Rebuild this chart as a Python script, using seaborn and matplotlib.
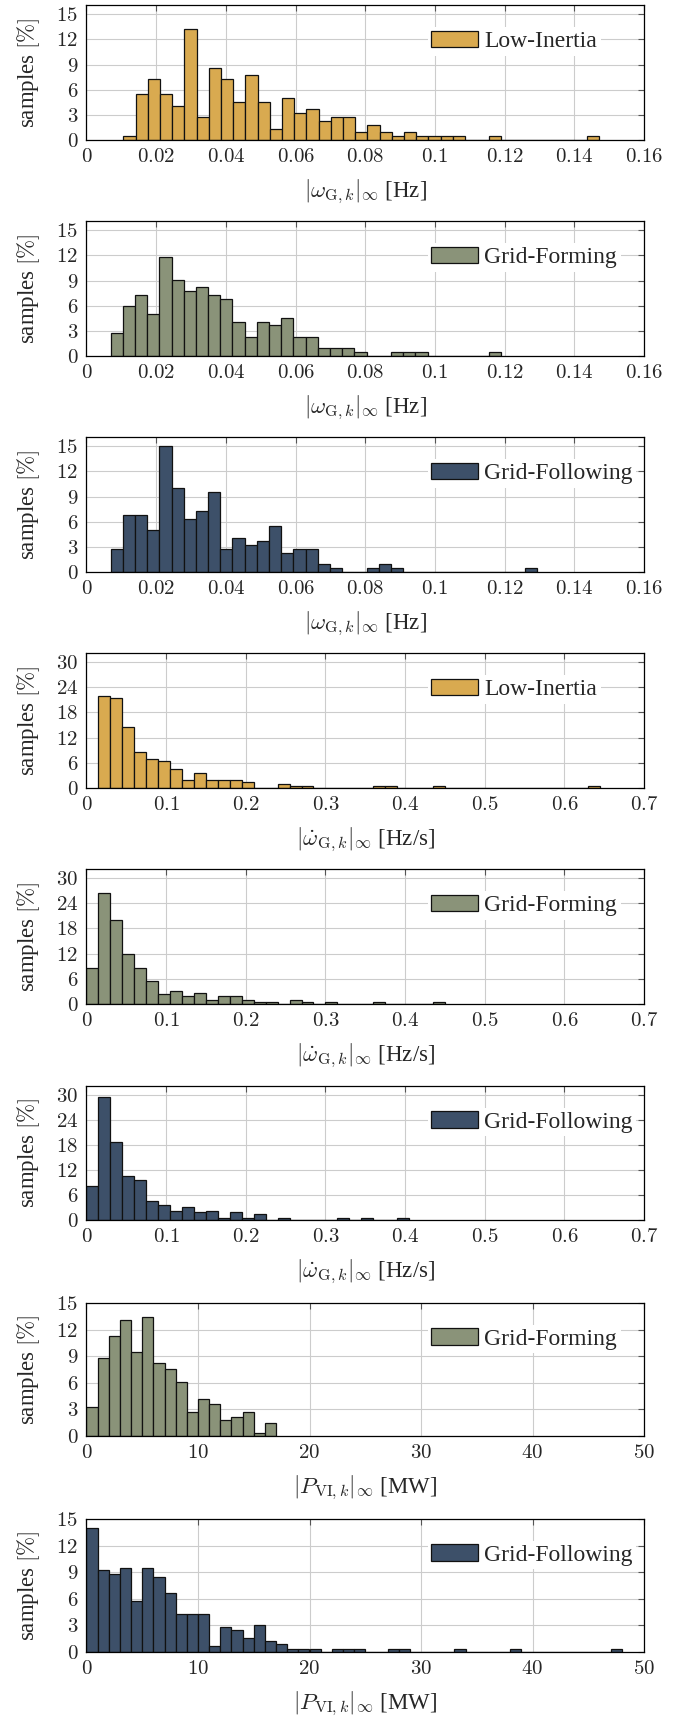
import numpy as np
import pandas as pd
import matplotlib
matplotlib.use('Agg')
import matplotlib.pyplot as plt
import seaborn as sns
from matplotlib.patches import Patch
from matplotlib.ticker import FuncFormatter, MultipleLocator

# bin heights [% of samples]
li_omega = [0.45, 5.45, 7.27, 5.45, 4.09, 13.18, 2.73, 8.64, 7.27, 4.55, 7.73, 4.55, 1.36,
            5.0, 3.18, 3.64, 2.27, 2.73, 2.73, 0.91, 1.82, 0.91, 0.45, 0.91, 0.45, 0.45,
            0.45, 0.45, 0, 0, 0.45, 0, 0, 0, 0, 0, 0, 0, 0.45]
gfm_omega = [2.73, 5.91, 7.27, 5.0, 11.82, 9.09, 7.73, 8.18, 7.27, 6.82, 4.09, 2.27, 4.09,
             3.64, 4.55, 2.27, 2.27, 0.91, 0.91, 0.91, 0.45, 0, 0, 0.45, 0.45, 0.45,
             0, 0, 0, 0, 0, 0.45]
gfl_omega = [2.73, 6.82, 6.82, 5.0, 15.0, 10.0, 6.36, 7.27, 9.55, 2.73, 4.09, 3.18, 3.64,
             5.45, 2.27, 2.73, 2.73, 0.91, 0.45, 0, 0, 0.45, 0.91, 0.45,
             0, 0, 0, 0, 0, 0, 0, 0, 0, 0, 0.45]

li_rocof = [21.82, 21.36, 14.55, 8.64, 6.82, 6.36, 4.55, 1.82, 3.64, 1.82, 1.82, 1.82, 1.36,
            0, 0, 0.91, 0.45, 0.45, 0, 0, 0, 0, 0, 0.45, 0.45, 0, 0, 0, 0.45,
            0, 0, 0, 0, 0, 0, 0, 0, 0, 0, 0, 0, 0.45]
gfm_rocof = [8.64, 26.36, 20.0, 11.82, 8.64, 5.45, 2.27, 3.18, 1.82, 2.73, 0.91, 1.82, 1.82,
             0.91, 0.45, 0.45, 0, 0.91, 0.45, 0, 0.45, 0, 0, 0, 0.45, 0, 0, 0, 0, 0.45]
gfl_rocof = [8.18, 29.55, 18.64, 10.45, 9.55, 4.55, 3.64, 2.27, 3.18, 1.82, 2.27, 0.45, 1.82,
             0.45, 1.36, 0, 0.45, 0, 0, 0, 0, 0.45, 0, 0.45, 0, 0, 0.45]

gfm_power = [3.3, 8.8, 11.3, 13.1, 9.5, 13.4, 8.2, 7.6, 6.1, 2.7, 4.2, 3.6, 1.8, 2.1, 2.7,
             0.3, 1.5]
gfl_power = [14.0, 9.2, 8.8, 9.5, 5.8, 9.5, 8.5, 6.7, 4.3, 4.3, 4.3, 0.7, 2.8, 2.45, 1.55,
             3.1, 1.25, 0.95, 0.3, 0.3, 0.3, 0, 0.3, 0.3, 0.3, 0, 0, 0.3, 0.3,
             0, 0, 0, 0, 0.3, 0, 0, 0, 0, 0.3, 0, 0, 0, 0, 0, 0, 0, 0, 0.3]

# (heights, legend label, first bin edge, bin width, quantity)
panels = [
    (li_omega, 'Low-Inertia', 0.0106, 0.0035, 'omega'),
    (gfm_omega, 'Grid-Forming', 0.0069, 0.0035, 'omega'),
    (gfl_omega, 'Grid-Following', 0.0069, 0.0035, 'omega'),
    (li_rocof, 'Low-Inertia', 0.015, 0.015, 'rocof'),
    (gfm_rocof, 'Grid-Forming', 0.0, 0.015, 'rocof'),
    (gfl_rocof, 'Grid-Following', 0.0, 0.015, 'rocof'),
    (gfm_power, 'Grid-Forming', 0.0, 1.0, 'power'),
    (gfl_power, 'Grid-Following', 0.0, 1.0, 'power'),
]

colors = {'Low-Inertia': '#D9AA50', 'Grid-Forming': '#8A9379', 'Grid-Following': '#3D5069'}

# xlim, xstep, ylim, ystep, xlabel
axis_cfg = {
    'omega': (0.16, 0.02, 16.1, 3, r'$|\omega_{\mathrm{G},k}|_\infty$ [Hz]'),
    'rocof': (0.7, 0.1, 32.1, 6, r'$|\dot{\omega}_{\mathrm{G},k}|_\infty$ [Hz/s]'),
    'power': (50, 10, 15, 3, r'$|P_{\mathrm{VI},k}|_\infty$ [MW]'),
}

sns.set_style('whitegrid')
plt.rcParams['font.family'] = ['Liberation Serif', 'DejaVu Serif']
plt.rcParams['mathtext.fontset'] = 'cm'

W, H = 689, 1718
fig = plt.figure(figsize=(W / 100, H / 100), dpi=100)

tops = [5, 221, 437, 653, 869, 1086, 1303, 1519]
bottoms = [140, 356, 572, 788, 1004, 1220, 1436, 1652]
left_px, right_px = 86.5, 644

tick_fmt = FuncFormatter(lambda v, p: '$%g$' % round(v, 6))

for (vals, name, start, width, kind), top, bot in zip(panels, tops, bottoms):
    ax = fig.add_axes([left_px / W, 1 - bot / H, (right_px - left_px) / W, (bot - top) / H])
    edges = start + width * np.arange(len(vals) + 1)
    df = pd.DataFrame({'x': edges[:-1] + width / 2, 'pct': vals})
    sns.histplot(data=df, x='x', weights='pct', bins=list(edges), color=colors[name],
                 edgecolor='#111111', linewidth=0.9, alpha=1, ax=ax)

    xmax, xstep, ymax, ystep, xlabel = axis_cfg[kind]
    ax.set_xlim(0, xmax)
    ax.set_ylim(0, ymax)
    ax.xaxis.set_major_locator(MultipleLocator(xstep))
    ax.yaxis.set_major_locator(MultipleLocator(ystep))
    ax.xaxis.set_major_formatter(tick_fmt)
    ax.yaxis.set_major_formatter(tick_fmt)
    ax.tick_params(direction='in', length=4, width=0.8, color='#555555',
                   top=True, right=True, labelsize=15, pad=6)
    ax.grid(True, color='#cccccc', linewidth=0.8)
    ax.set_axisbelow(True)
    for s in ax.spines.values():
        s.set_color('black')
        s.set_linewidth(0.9)

    ax.set_xlabel(xlabel, fontsize=16.5, labelpad=7)
    ax.set_ylabel(r'samples $[\%]$', fontsize=16.5, labelpad=10)

    handle = Patch(facecolor=colors[name], edgecolor='#111111', linewidth=0.9)
    leg = ax.legend(handles=[handle], labels=[name], loc='center left',
                    bbox_to_anchor=(0.612, 0.73), fontsize=17, frameon=True,
                    facecolor='white', edgecolor='none', framealpha=1, fancybox=False,
                    borderpad=0.15, borderaxespad=0, handlelength=2.0,
                    handleheight=0.7, handletextpad=0.25)

fig.savefig('out.png', dpi=100)
